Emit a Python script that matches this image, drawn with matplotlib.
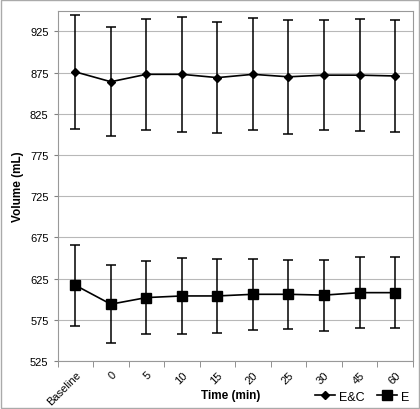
import numpy as np
import matplotlib
matplotlib.use('Agg')
import matplotlib.pyplot as plt
from matplotlib.lines import Line2D

plt.rcParams['font.family'] = ['Liberation Sans', 'DejaVu Sans']

# ---------- data ----------
times = ['Baseline', '0', '5', '10', '15', '20', '25', '30', '45', '60']
ec_mean = [876, 864, 873, 873, 869, 873, 870, 872, 872, 871]
ec_sd = [69, 66, 67, 70, 67, 68, 69, 67, 68, 68]
e_mean = [617, 594, 602, 604, 604, 606, 606, 605, 608, 608]
e_sd = [49, 47, 44, 46, 45, 43, 42, 43, 43, 43]

x = np.arange(len(times))

fig = plt.figure(figsize=(4.2, 4.1), dpi=100)
ax = fig.add_axes([0.137, 0.117, 0.846, 0.854])

ax.errorbar(x, ec_mean, yerr=ec_sd, color='black', marker='D', markersize=4.5,
            linewidth=1.2, elinewidth=1.1, capsize=3.5, capthick=1.1)
ax.errorbar(x, e_mean, yerr=e_sd, color='black', marker='s', markersize=6.5,
            linewidth=1.2, elinewidth=1.1, capsize=3.5, capthick=1.1)

ax.set_xlim(-0.5, len(times) - 0.5)
ax.set_ylim(525, 950)
ax.set_yticks(np.arange(525, 926, 50))
ax.yaxis.grid(True, color='#b8b8b8', linewidth=0.8)
ax.set_axisbelow(True)

# category labels centered, tick marks between categories
ax.set_xticks(x)
ax.set_xticklabels(times, rotation=45, ha='right', rotation_mode='anchor', fontsize=8)
ax.tick_params(axis='x', length=0, pad=6)
ax.set_xticks(np.arange(-0.5, len(times), 1), minor=True)
ax.tick_params(axis='x', which='minor', length=4, color='#808080')
ax.tick_params(axis='y', labelsize=8, length=3, color='#808080')

for s in ax.spines.values():
    s.set_color('#999999')
    s.set_linewidth(0.8)

ax.set_ylabel('Volume (mL)', fontsize=8.5, fontweight='bold', labelpad=4)
fig.text(0.55, 0.035, 'Time (min)', fontsize=8.5, fontweight='bold', ha='center', va='center')

handles = [Line2D([], [], color='black', marker='D', markersize=4.5, linewidth=1.2),
           Line2D([], [], color='black', marker='s', markersize=6.5, linewidth=1.2)]
fig.legend(handles, ['E&C', 'E'], loc='lower right', bbox_to_anchor=(1.0, -0.012), ncol=2,
           frameon=False, fontsize=9, handlelength=1.6, handletextpad=0.3,
           columnspacing=1.0)

# outer border
fig.patches.append(plt.Rectangle((0.002, 0.002), 0.996, 0.996, transform=fig.transFigure,
                                 fill=False, edgecolor='#aaaaaa', linewidth=1))

plt.savefig('out.png', dpi=100)
